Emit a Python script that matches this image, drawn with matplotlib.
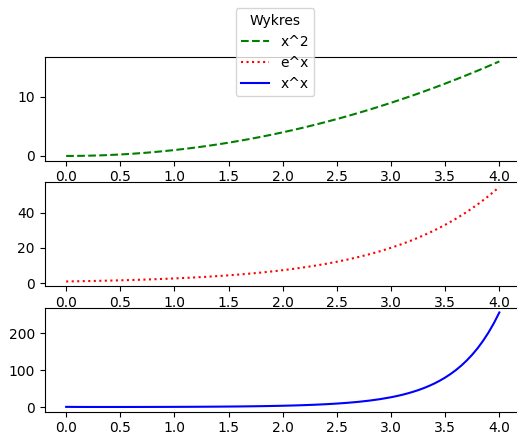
import matplotlib
matplotlib.use("Agg")
import matplotlib.pyplot as plt

x = [0.0, 0.1, 0.2, 0.3, 0.4, 0.5, 0.6, 0.7, 0.8, 0.9, 1.0, 1.1, 1.2, 1.3, 1.4, 1.5,
     1.6, 1.7, 1.8, 1.9, 2.0, 2.1, 2.2, 2.3, 2.4, 2.5, 2.6, 2.7, 2.8, 2.9, 3.0, 3.1,
     3.2, 3.3, 3.4, 3.5, 3.6, 3.7, 3.8, 3.9, 4.0]
y_sq = [0.0, 0.01, 0.04, 0.09, 0.16, 0.25, 0.36, 0.49, 0.64, 0.81, 1.0, 1.21, 1.44,
        1.69, 1.96, 2.25, 2.56, 2.89, 3.24, 3.61, 4.0, 4.41, 4.84, 5.29, 5.76, 6.25,
        6.76, 7.29, 7.84, 8.41, 9.0, 9.61, 10.24, 10.89, 11.56, 12.25, 12.96, 13.69,
        14.44, 15.21, 16.0]
y_exp = [1.00, 1.11, 1.22, 1.35, 1.49, 1.65, 1.82, 2.01, 2.23, 2.46, 2.72, 3.00, 3.32,
         3.67, 4.06, 4.48, 4.95, 5.47, 6.05, 6.69, 7.39, 8.17, 9.03, 9.97, 11.02, 12.18,
         13.46, 14.88, 16.44, 18.17, 20.09, 22.20, 24.53, 27.11, 29.96, 33.12, 36.60,
         40.45, 44.70, 49.40, 54.60]
x_pow = [0.0, 0.1, 0.2, 0.3, 0.4, 0.5, 0.6, 0.7, 0.8, 0.9, 1.0, 1.1, 1.2, 1.3, 1.4, 1.5,
         1.6, 1.7, 1.8, 1.9, 2.0, 2.1, 2.2, 2.3, 2.4, 2.5, 2.6, 2.7, 2.8, 2.9, 3.0,
         3.05, 3.1, 3.15, 3.2, 3.25, 3.3, 3.35, 3.4, 3.45, 3.5, 3.55, 3.6, 3.65, 3.7,
         3.75, 3.8, 3.85, 3.9, 3.95, 4.0]
y_pow = [1.0, 0.794, 0.725, 0.697, 0.693, 0.707, 0.736, 0.779, 0.837, 0.910, 1.0, 1.110,
         1.245, 1.406, 1.602, 1.837, 2.121, 2.466, 2.881, 3.386, 4.0, 4.75, 5.67, 6.79,
         8.18, 9.88, 11.99, 14.61, 17.87, 21.92, 27.0,
         30.0, 33.36, 37.13, 41.35, 46.09, 51.41, 57.40, 64.12, 71.69, 80.21, 89.81,
         100.6, 112.81, 126.6, 142.11, 159.6, 179.48, 201.9, 227.29, 256.0]
labels = ["x^2", "e^x", "x^x"]
legend_title = "Wykres"

W, H = 517, 438
fig, axes = plt.subplots(3, 1, figsize=(W / 100, H / 100), dpi=100)
fig.subplots_adjust(left=44.5 / W, right=521.0 / W, top=1 - 56.7 / H,
                    bottom=1 - 411.7 / H, hspace=0.207)

l1, = axes[0].plot(x, y_sq, "g--", label=labels[0])
l2, = axes[1].plot(x, y_exp, "r:", label=labels[1])
l3, = axes[2].plot(x_pow, y_pow, "b-", label=labels[2])

fig.legend(handles=[l1, l2, l3], title=legend_title, loc="upper center",
           bbox_to_anchor=(275 / W, 1 - 8.3 / H), borderaxespad=0)

fig.savefig("out.png", dpi=100)
